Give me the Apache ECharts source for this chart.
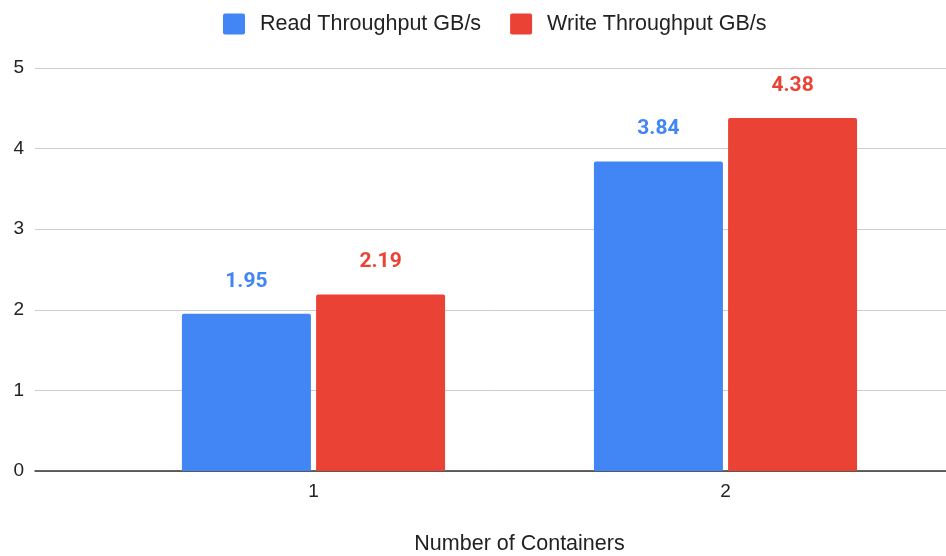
<!DOCTYPE html>
<html>
<head>
<meta charset="utf-8">
<script src="https://cdn.jsdelivr.net/npm/echarts@6/dist/echarts.min.js"></script>
<style>html,body{margin:0;padding:0;background:#fff}#c{width:946px;height:556px}</style>
</head>
<body>
<div id="c"></div>
<script>
const categories = ['1', '2'];
const readValues = [1.95, 3.84];
const writeValues = [2.19, 4.38];
const yTicks = [0, 1, 2, 3, 4, 5];
const seriesNames = ['Read Throughput GB/s', 'Write Throughput GB/s'];
const colors = ['#4285F4', '#EA4335'];

const chart = echarts.init(document.getElementById('c'), null, {renderer: 'canvas'});
const fontMain = '"Liberation Sans", Arial, sans-serif';
const squareIcon = 'path://M2,0 H20 Q22,0 22,2 V19 Q22,21 20,21 H2 Q0,21 0,19 V2 Q0,0 2,0 Z';
chart.setOption({
  animation: false,
  legend: {
    top: 13, left: 223, padding: 0,
    itemWidth: 22, itemHeight: 21, itemGap: 29,
    textStyle: {fontFamily: fontMain, fontSize: 21.5, color: '#222', padding: [0, 0, 0, 10]},
    data: [{name: seriesNames[0], icon: squareIcon}, {name: seriesNames[1], icon: squareIcon}]
  },
  grid: [
    {left: 35, right: 0, top: 68, bottom: 85, outerBoundsMode: 'none'},
    {left: 107.5, width: 824, top: 68, bottom: 85, outerBoundsMode: 'none'}
  ],
  xAxis: [
    {gridIndex: 0, type: 'value', min: 0, max: 1, show: true,
     axisLine: {show: true, lineStyle: {color: '#333', width: 1.5}},
     axisTick: {show: false}, axisLabel: {show: false}, splitLine: {show: false}},
    {gridIndex: 1, type: 'category', data: categories,
     axisLine: {show: false}, axisTick: {show: false},
     axisLabel: {fontFamily: fontMain, fontSize: 19, color: '#222', margin: 11},
     name: 'Number of Containers', nameLocation: 'middle', nameGap: 62,
     nameTextStyle: {fontFamily: fontMain, fontSize: 21.5, color: '#222'}}
  ],
  yAxis: [
    {gridIndex: 0, type: 'value', min: yTicks[0], max: yTicks[yTicks.length - 1], interval: 1,
     axisLine: {show: false}, axisTick: {show: false},
     axisLabel: {fontFamily: fontMain, fontSize: 19, color: '#222', margin: 11},
     splitLine: {lineStyle: {color: '#cccccc', width: 1}}},
    {gridIndex: 1, type: 'value', min: yTicks[0], max: yTicks[yTicks.length - 1], interval: 1, show: false}
  ],
  series: [
    {name: seriesNames[0], type: 'bar', xAxisIndex: 1, yAxisIndex: 1, data: readValues,
     barWidth: 129, barGap: '4%',
     itemStyle: {color: colors[0], borderRadius: [2, 2, 0, 0]},
     label: {show: true, position: 'top', distance: 22, fontFamily: 'Roboto, sans-serif', fontWeight: 'bold', fontSize: 21, color: colors[0],
       formatter: p => p.value.toFixed(2)}},
    {name: seriesNames[1], type: 'bar', xAxisIndex: 1, yAxisIndex: 1, data: writeValues,
     barWidth: 129, barGap: '4%',
     itemStyle: {color: colors[1], borderRadius: [2, 2, 0, 0]},
     label: {show: true, position: 'top', distance: 22, fontFamily: 'Roboto, sans-serif', fontWeight: 'bold', fontSize: 21, color: colors[1],
       formatter: p => p.value.toFixed(2)}}
  ]
});
</script>
</body>
</html>
